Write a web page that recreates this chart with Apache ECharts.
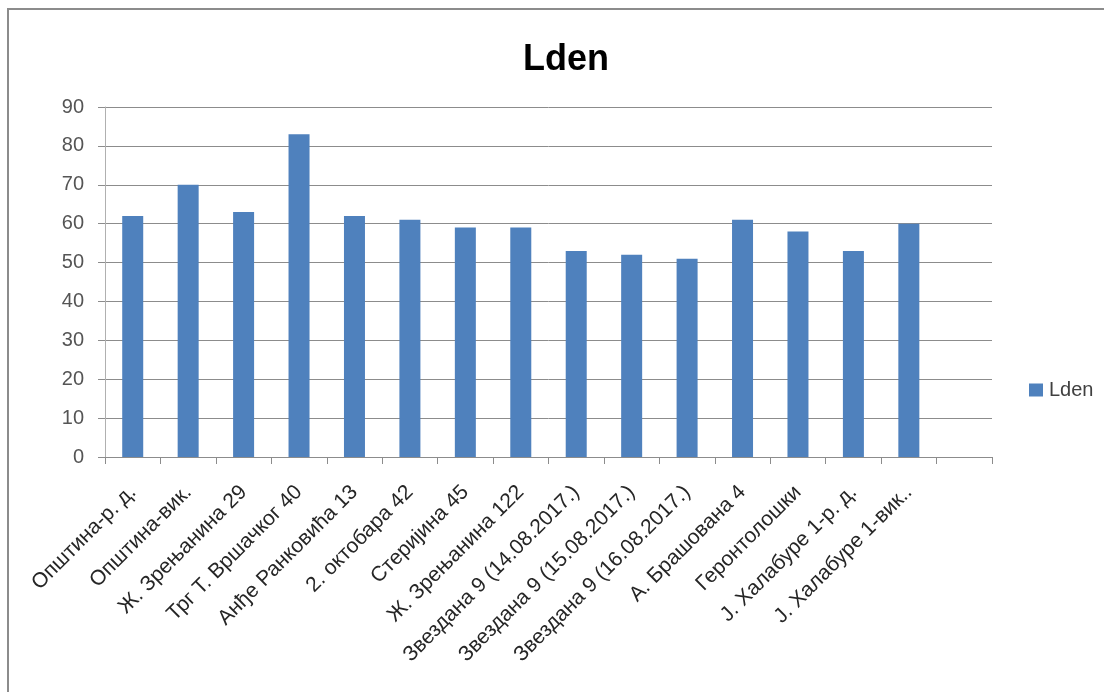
<!DOCTYPE html>
<html>
<head>
<meta charset="utf-8">
<script src="https://cdn.jsdelivr.net/npm/echarts@6/dist/echarts.min.js"></script>
<style>
  html, body { margin: 0; padding: 0; background: #fff; }
  #chart { width: 1104px; height: 692px; }
</style>
</head>
<body>
<div id="chart"></div>
<script>
// места мерења
const categories = [
  'Општина-р. д.',
  'Општина-вик.',
  'Ж. Зрењанина 29',
  'Трг Т. Вршачког 40',
  'Анђе Ранковића 13',
  '2. октобара 42',
  'Стеријина 45',
  'Ж. Зрењанина 122',
  'Звездана 9 (14.08.2017.)',
  'Звездана 9 (15.08.2017.)',
  'Звездана 9 (16.08.2017.)',
  'А. Брашована 4',
  'Геронтолошки',
  'J. Халабуре 1-р. д.',
  'J. Халабуре 1-вик..',
  '',
];
const ldenValues = [62, 70, 63, 83, 62, 61, 59, 59, 53, 52, 51, 61, 58, 53, 60, null];
const yTicks = { min: 0, max: 90, interval: 10 };

const chart = echarts.init(document.getElementById('chart'), null, { renderer: 'canvas' });

chart.setOption({
  animation: false,
  backgroundColor: '#ffffff',
  title: {
    text: 'Lden',
    left: 561,
    top: 37,
    textAlign: 'center',
    textStyle: {
      fontFamily: 'Liberation Sans',
      fontSize: 36,
      fontWeight: 'bold',
      color: '#000',
    },
  },
  legend: {
    data: ['Lden'],
    orient: 'vertical',
    left: 1029,
    top: 380,
    padding: 0,
    itemWidth: 14,
    itemHeight: 13,
    icon: 'rect',
    textStyle: {
      fontFamily: 'Liberation Sans',
      fontSize: 20,
      color: '#404040',
      padding: [0, 0, 0, 1],
    },
  },
  graphic: [
    {
      // рам графикона (видљиви само горња и лева ивица)
      type: 'rect',
      shape: { x: 8, y: 9, width: 1300, height: 900 },
      style: { fill: 'none', stroke: '#8c8c8c', lineWidth: 2 },
      silent: true,
    },
  ],
  grid: {
    left: 105,
    right: 112,
    top: 107,
    bottom: 235,
    containLabel: false,
  },
  xAxis: {
    type: 'category',
    data: categories,
    boundaryGap: true,
    axisLine: { show: true, lineStyle: { color: '#8c8c8c', width: 1 } },
    axisTick: {
      show: true,
      interval: 0,
      length: 7,
      lineStyle: { color: '#8c8c8c' },
    },
    axisLabel: {
      interval: 0,
      rotate: 45,
      margin: 32,
      fontFamily: 'Liberation Sans',
      fontSize: 21,
      color: '#262626',
    },
    splitLine: { show: false },
  },
  yAxis: {
    type: 'value',
    min: yTicks.min,
    max: yTicks.max,
    interval: yTicks.interval,
    axisLine: { show: true, lineStyle: { color: '#b0b0b0', width: 1 } },
    axisTick: { show: true, length: 7, lineStyle: { color: '#8c8c8c' } },
    axisLabel: {
      margin: 21,
      fontFamily: 'Liberation Sans',
      fontSize: 20,
      color: '#555555',
    },
    splitLine: { show: true, lineStyle: { color: '#8c8c8c', width: 1 } },
  },
  series: [
    {
      name: 'Lden',
      type: 'bar',
      data: ldenValues,
      barWidth: 21,
      itemStyle: { color: '#4f81bd' },
    },
  ],
});
</script>
</body>
</html>
